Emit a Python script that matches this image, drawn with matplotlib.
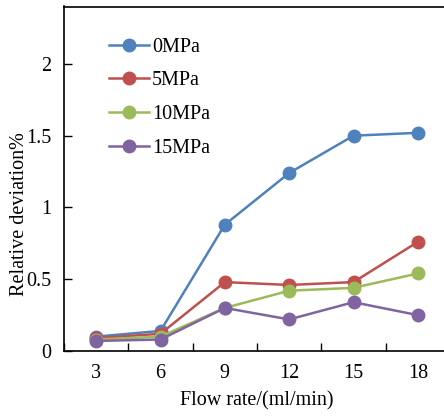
import numpy as np
from matplotlib import pyplot as plt

plt.rcParams['font.family'] = ['Liberation Serif', 'DejaVu Serif']

flow_rates = ['3', '6', '9', '12', '15', '18']
series_names = ['0MPa', '5MPa', '10MPa', '15MPa']
dev_0mpa = [0.10, 0.14, 0.88, 1.24, 1.50, 1.52]
dev_5mpa = [0.09, 0.12, 0.48, 0.46, 0.48, 0.76]
dev_10mpa = [0.08, 0.10, 0.30, 0.42, 0.44, 0.54]
dev_15mpa = [0.07, 0.08, 0.30, 0.22, 0.34, 0.25]

colors = ['#4F81BD', '#C0504D', '#9BBB59', '#8064A2']

fig = plt.figure(figsize=(4.44, 4.17), dpi=100)
# axes runs past the right edge, as in the reference
ax = fig.add_axes([64 / 444, 66 / 417, 386 / 444, 344.5 / 417])

x = np.arange(len(flow_rates))
for vals, name, c in zip([dev_0mpa, dev_5mpa, dev_10mpa, dev_15mpa], series_names, colors):
    ax.plot(x, vals, '-o', color=c, lw=1.8, markersize=9, label=name)

ax.set_xlim(-0.5, len(flow_rates) - 0.5)
ax.set_ylim(0, 2.4)
ax.set_yticks([0, 0.5, 1, 1.5, 2])
ax.set_yticklabels(['0', '0.5', '1', '1.5', '2'])
ax.set_xticks(x)
ax.set_xticklabels(flow_rates)
ax.set_xticks(np.arange(len(flow_rates) + 1) - 0.5, minor=True)

ax.tick_params(axis='x', which='major', length=0, labelsize=14.5, pad=9)
ax.tick_params(axis='x', which='minor', direction='in', length=6, width=1)
ax.tick_params(axis='y', direction='in', length=6, width=1, labelsize=14.5, pad=9)
for s in ax.spines.values():
    s.set_linewidth(1.2)

ax.set_xlabel('Flow rate/(ml/min)', fontsize=14.5, labelpad=6)
fig.text(19 / 444, 1 - 214 / 417, 'Relative deviation%', fontsize=14.5,
         rotation=90, ha='center', va='center')

ax.legend(loc='upper left', bbox_to_anchor=(0.069, 0.962), frameon=False,
          fontsize=14.5, handlelength=2.0, labelspacing=0.72, handletextpad=0.15)

plt.savefig('out.png', dpi=100)
